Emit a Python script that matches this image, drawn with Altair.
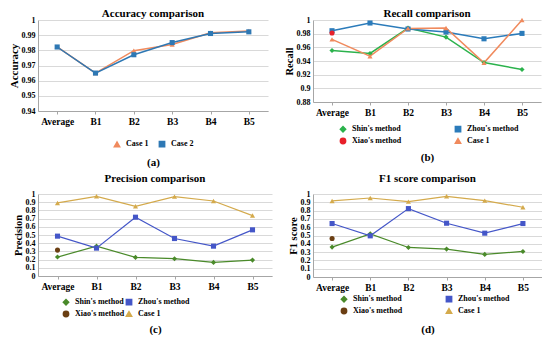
import altair as alt
import pandas as pd

FONT = "Liberation Serif"

cats = ["Average", "B1", "B2", "B3", "B4", "B5"]

# (a) Accuracy
acc_names = ["Case 1", "Case 2"]
acc_case1 = [0.9823, 0.9650, 0.9798, 0.9838, 0.9916, 0.9927]
acc_case2 = [0.9822, 0.9650, 0.9771, 0.9851, 0.9911, 0.9922]
acc_ticks = [0.94, 0.95, 0.96, 0.97, 0.98, 0.99, 1.0]

# (b) Recall
rec_names = ["Shin's method", "Zhou's method", "Xiao's method", "Case 1"]
rec_shin = [0.9554, 0.9510, 0.9882, 0.9750, 0.9377, 0.9275]
rec_zhou = [0.9843, 0.9956, 0.9868, 0.9824, 0.9725, 0.9804]
rec_xiao = [0.9809]
rec_case1 = [0.9716, 0.9470, 0.9877, 0.9882, 0.9373, 1.0]
rec_ticks = [0.88, 0.90, 0.92, 0.94, 0.96, 0.98, 1.0]

# (c) Precision
prec_shin = [0.231, 0.364, 0.227, 0.211, 0.166, 0.194]
prec_zhou = [0.486, 0.340, 0.717, 0.457, 0.364, 0.563]
prec_xiao = [0.316]
prec_case1 = [0.891, 0.972, 0.850, 0.968, 0.915, 0.737]

# (d) F1 score
f1_shin = [0.360, 0.520, 0.356, 0.336, 0.272, 0.308]
f1_zhou = [0.644, 0.496, 0.824, 0.648, 0.528, 0.644]
f1_xiao = [0.464]
f1_case1 = [0.916, 0.952, 0.908, 0.972, 0.920, 0.840]
unit_ticks = [0, 0.1, 0.2, 0.3, 0.4, 0.5, 0.6, 0.7, 0.8, 0.9, 1.0]

colors_a = ["#F08A5D", "#2E78B4"]
shapes_a = ["triangle-up", "square"]
colors_b = ["#2BB24C", "#2B7BBA", "#E8202A", "#F08A5D"]
colors_cd = ["#4A8A2A", "#4456C8", "#6B3F13", "#D4AA4C"]
shapes_4 = ["diamond", "square", "circle", "triangle-up"]


def panel(title, ytitle, caption, names, series, colors, shapes, ydom, ticks, fmt,
          w, h, lx, ly, cols, colpad, cap_pad, ytitle_size=10.5, lw=1.5, toff=-3):
    rows = []
    for name, vals in zip(names, series):
        for c, v in zip(cats, vals):
            rows.append({"cat": c, "series": name, "value": v})
    df = pd.DataFrame(rows)
    x = alt.X("cat:N", sort=cats, scale=alt.Scale(type="point", padding=0.5),
              axis=alt.Axis(title=caption, titlePadding=cap_pad, labelAngle=0,
                            labelFontSize=9.5, titleFontSize=11, tickSize=3,
                            labelPadding=2, grid=False))
    y = alt.Y("value:Q", scale=alt.Scale(domain=ydom, nice=False, zero=False),
              axis=alt.Axis(values=ticks, format=fmt, title=ytitle, grid=True,
                            tickSize=0, labelPadding=3, labelFontSize=8,
                            labelOverlap=False,
                            titleFontSize=ytitle_size, titlePadding=2))
    leg = alt.Legend(title=None, orient="none", legendX=lx, legendY=ly,
                     direction="horizontal", columns=cols, columnPadding=colpad,
                     rowPadding=0, labelFontSize=8, symbolSize=28,
                     labelOffset=5, gridAlign="each")
    color = alt.Color("series:N", sort=names,
                      scale=alt.Scale(domain=names, range=colors), legend=leg)
    shape = alt.Shape("series:N", sort=names,
                      scale=alt.Scale(domain=names, range=shapes), legend=leg)
    base = alt.Chart(df).encode(x=x, y=y, color=color)
    line = base.mark_line(strokeWidth=lw)
    pts = base.mark_point(filled=True, size=26, opacity=1).encode(shape=shape)
    return alt.layer(line, pts).properties(
        width=w, height=h,
        title=alt.TitleParams(title, fontSize=11, offset=toff, anchor="middle"))


a = panel("Accuracy comparison", "Accuracy", "(a)", acc_names,
          [acc_case1, acc_case2], colors_a, shapes_a, [0.94, 1.0], acc_ticks,
          ".2~f", 230, 91, 75, 120, 2, 7, 31, 11)
b = panel("Recall comparison", "Recall", "(b)", rec_names,
          [rec_shin, rec_zhou, rec_xiao, rec_case1], colors_b, shapes_4,
          [0.88, 1.0], rec_ticks, ".2~f", 228, 82, 26, 105, 2, 50, 35)
c = panel("Precision comparison", "Precision", "(c)", rec_names,
          [prec_shin, prec_zhou, prec_xiao, prec_case1], colors_cd, shapes_4,
          [0, 1.0], unit_ticks, ".1~f", 234, 82, 24, 104, 2, -11, 33, 10.5, 1.2, 6)
d = panel("F1 score comparison", "F1 score", "(d)", rec_names,
          [f1_shin, f1_zhou, f1_xiao, f1_case1], colors_cd, shapes_4,
          [0, 1.0], unit_ticks, ".1~f", 229, 83, 27, 101, 2, 40, 32, 10.5, 1.2, 6)

chart = alt.vconcat(
    alt.hconcat(a, b, spacing=16).resolve_scale(color="independent", shape="independent"),
    alt.hconcat(c, d, spacing=16).resolve_scale(color="independent", shape="independent"),
    spacing=5,
).resolve_scale(color="independent", shape="independent").properties(
    padding={"left": 0, "top": 0, "right": 0, "bottom": 0}
).configure_axis(
    labelFont=FONT, titleFont=FONT, labelFontWeight="bold", titleFontWeight="bold",
    labelColor="black", titleColor="black", gridColor="#D9D9D9",
    domainColor="#A6A6A6", tickColor="#A6A6A6"
).configure_legend(
    labelFont=FONT, labelFontWeight="bold", labelColor="black"
).configure_title(
    font=FONT, fontWeight="bold", color="black"
).configure_view(stroke=None)

chart.save("out.html", embed_options={"renderer": "svg", "actions": False})
